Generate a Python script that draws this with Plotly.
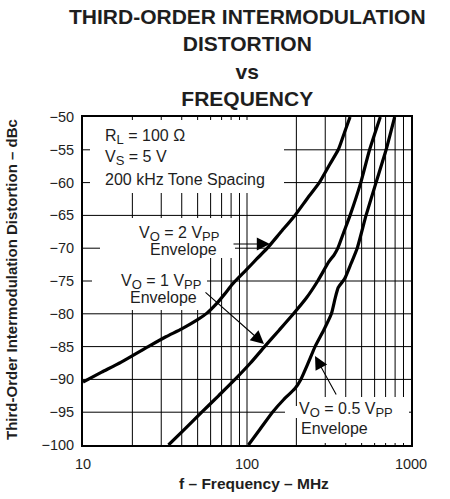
import math
import plotly.graph_objects as go

# ---------------- data ----------------
f_2vpp = [10, 13, 17, 25, 32, 40, 50, 57, 65, 73, 82, 100, 115, 133, 160, 196, 235, 276, 320, 360, 395, 425]
d_2vpp = [-90.4, -88.9, -87.4, -85.0, -83.5, -82.3, -80.9, -79.9, -78.5, -77.0, -75.4, -73.2, -71.6, -70.0,
          -67.6, -65.0, -62.3, -60.0, -57.2, -55.0, -52.2, -50.0]

f_1vpp = [33.2, 42, 53, 67, 84.5, 105, 128, 157, 192, 230, 270, 315, 340, 358, 390, 425, 494, 559, 650]
d_1vpp = [-100, -97.5, -95.0, -92.5, -90.0, -87.5, -85.0, -82.5, -80.0, -77.6, -75.0, -72.1, -71.0, -70.0,
          -67.5, -65.0, -60.0, -55.0, -50.0]

f_05vpp = [102, 120, 143, 167, 196, 213, 235, 260, 295, 327, 345, 360, 395, 430, 470, 532, 612, 705, 795]
d_05vpp = [-100, -97.6, -95.0, -93.1, -91.4, -90.0, -87.6, -85.0, -82.4, -80.0, -77.6, -76.0, -74.6, -72.4,
           -70.0, -65.0, -60.0, -55.0, -50.0]

x_tickvals = [10, 20, 30, 40, 50, 60, 70, 80, 90, 100, 200, 300, 400, 500, 600, 700, 800, 900, 1000]
x_ticktext = ["10", "", "", "", "", "", "", "", "", "100", "", "", "", "", "", "", "", "", "1000"]
y_tickvals = [-100, -95, -90, -85, -80, -75, -70, -65, -60, -55, -50]

title_lines = ["THIRD-ORDER INTERMODULATION", "DISTORTION", "vs", "FREQUENCY"]
x_title = "f – Frequency – MHz"
y_title = "Third-Order Intermodulation Distortion – dBc"


def sub(s):
    return "<sub><span style='font-size:13px'>" + s + "</span></sub>"


cond_lines = ["R" + sub("L") + " = 100 Ω", "V" + sub("S") + " = 5 V", "200 kHz Tone Spacing"]

# ---------------- layout geometry ----------------
W, H = 450, 499
PL, PR, PT, PB = 83, 411, 117, 445          # plot-area edges in pixels
PW, PH = PR - PL, PB - PT
FONT = "Liberation Sans, Arial, Helvetica, sans-serif"
INK = "#1e1e1e"
XR = (1, 3)
YR = (-100, -50)


def px(x):
    return (x - PL) / PW


def py(y):
    return (PB - y) / PH


fig = go.Figure()
for f, d in [(f_2vpp, d_2vpp), (f_1vpp, d_1vpp), (f_05vpp, d_05vpp)]:
    fig.add_trace(go.Scatter(x=f, y=d, mode="lines",
                             line=dict(color="black", width=3.2, shape="spline", smoothing=0.5),
                             showlegend=False, hoverinfo="skip"))

shapes = []
# grid lines (drawn as shapes so label boxes can hide them)
for v in x_tickvals[1:-1]:
    xf = (math.log10(v) - XR[0]) / (XR[1] - XR[0])
    shapes.append(dict(type="line", xref="paper", yref="paper", x0=xf, x1=xf, y0=0, y1=1,
                       line=dict(color="black", width=1), layer="below"))
for v in y_tickvals[1:-1]:
    yf = (v - YR[0]) / (YR[1] - YR[0])
    shapes.append(dict(type="line", xref="paper", yref="paper", x0=0, x1=1, y0=yf, y1=yf,
                       line=dict(color="black", width=1), layer="below"))

# white boxes behind labels (pixels: x0, x1, y0, y1)
masks = [
    (90, 284, 120, 193),
    (100, 235, 218, 258),
    (92, 207, 258, 310),
    (298, 409, 397, 443),
    (285, 298, 406, 418),
]
for x0, x1, y0, y1 in masks:
    shapes.append(dict(type="rect", xref="paper", yref="paper",
                       x0=px(x0), x1=px(x1), y0=py(y1), y1=py(y0),
                       fillcolor="white", line=dict(width=0), layer="below"))

ann = []
# title
ann.append(dict(xref="paper", yref="paper", x=0.5, y=py(58), xanchor="center", yanchor="middle",
                text="<br>".join(title_lines), showarrow=False,
                font=dict(family=FONT, size=21, color=INK, weight="bold")))
# axis titles
ann.append(dict(xref="paper", yref="paper", x=px(254), y=py(483), xanchor="center", yanchor="middle",
                text=x_title, showarrow=False,
                font=dict(family=FONT, size=15.5, color=INK, weight="bold")))
ann.append(dict(xref="paper", yref="paper", x=px(11), y=py(280), xanchor="center", yanchor="middle",
                text=y_title, textangle=-90, showarrow=False,
                font=dict(family=FONT, size=15, color=INK, weight="bold")))

lab_font = dict(family=FONT, size=16, color=INK)
# conditions
for i, t in enumerate(cond_lines):
    ann.append(dict(xref="paper", yref="paper", x=px(103), y=py(137 + 21 * i), xanchor="left",
                    yanchor="middle", text=t, showarrow=False, font=lab_font))

# curve labels
labels = [
    ("V" + sub("O") + " = 2 V" + sub("PP"), 221, 234, "right"),
    ("Envelope", 219, 249, "right"),
    ("V" + sub("O") + " = 1 V" + sub("PP"), 203, 282, "right"),
    ("Envelope", 199, 297, "right"),
    ("V" + sub("O") + " = 0.5 V" + sub("PP"), 297, 410, "left"),
    ("Envelope", 299, 428, "left"),
]
for t, x, y, anc in labels:
    ann.append(dict(xref="paper", yref="paper", x=px(x), y=py(y), xanchor=anc, yanchor="middle",
                    text=t, showarrow=False, font=lab_font))

# arrows: (tip x, tip y, tail x, tail y) in pixels
arrows = [(270, 244, 232, 244), (264, 344, 204, 291), (315, 356, 337, 396)]
for tx, ty, sx, sy in arrows:
    ann.append(dict(xref="paper", yref="paper", x=px(tx), y=py(ty), ax=sx - tx, ay=sy - ty,
                    text="", showarrow=True, arrowhead=2, arrowsize=2.4, arrowwidth=1.1,
                    arrowcolor="black"))

axis_common = dict(showline=True, linecolor="black", linewidth=2, mirror=True,
                   showgrid=False, zeroline=False,
                   ticks="", tickfont=dict(family=FONT, size=14.5, color=INK))

fig.update_layout(
    width=W, height=H,
    margin=dict(l=PL, r=W - PR, t=PT, b=H - PB, autoexpand=False),
    paper_bgcolor="white", plot_bgcolor="white",
    xaxis=dict(type="log", range=list(XR), tickvals=x_tickvals, ticktext=x_ticktext,
               ticklabelstandoff=5, **axis_common),
    yaxis=dict(range=list(YR), tickvals=y_tickvals, ticklabelstandoff=4, **axis_common),
    shapes=shapes, annotations=ann,
)

fig.write_html("out.html", config={"displayModeBar": False},
               post_script="document.body.style.margin='0px';")
